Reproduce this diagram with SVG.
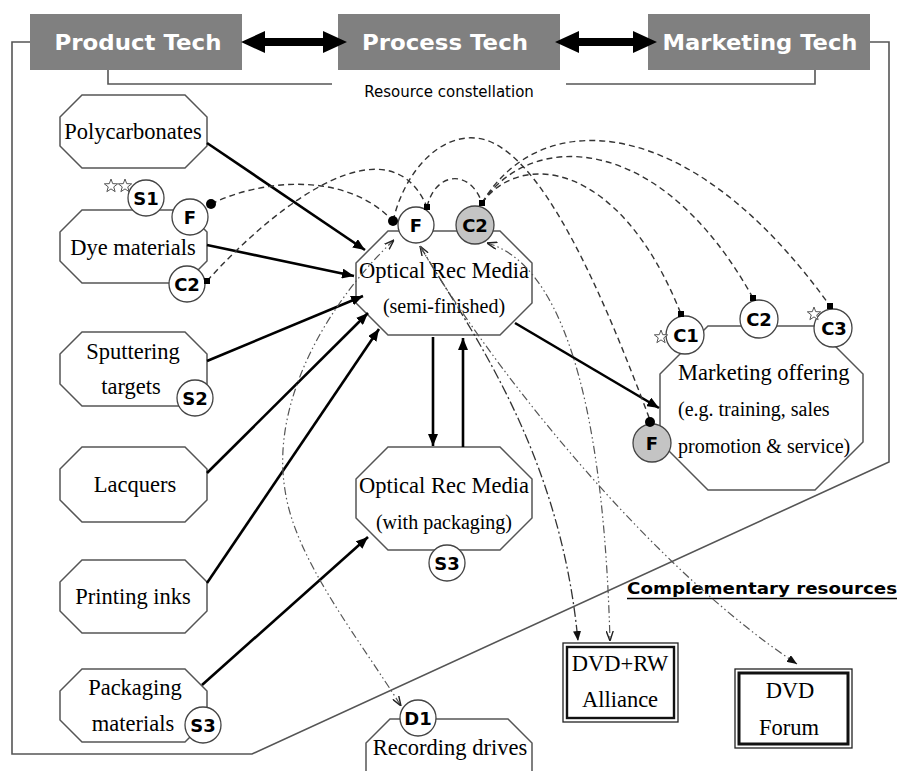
<svg xmlns="http://www.w3.org/2000/svg" width="898" height="771" viewBox="0 0 898 771">
<style>
.hbox{fill:#808080}
.htxt{font-family:"DejaVu Sans",sans-serif;font-weight:bold;font-size:21px;fill:#fff;text-anchor:middle}
.node{fill:#fff;stroke:#555;stroke-width:1.5}
.circ{fill:#fff;stroke:#444;stroke-width:1.3}
.gray{fill:#c4c4c4}
.lbl{font-family:"Liberation Serif",serif;font-size:22.5px;fill:#000;text-anchor:middle}
.sm{font-size:20px}
.st{text-anchor:start}
.clbl{font-family:"DejaVu Sans",sans-serif;font-weight:bold;font-size:18px;fill:#000;text-anchor:middle}
.solid{stroke:#000;stroke-width:2.6;fill:none;marker-end:url(#ah)}
.dash{stroke:#333;stroke-width:1.4;fill:none;stroke-dasharray:6 4}
.dd{stroke:#333;stroke-width:1.3;fill:none;stroke-dasharray:10 3 2 3}
.ddd{stroke:#555;stroke-width:1.2;fill:none;stroke-dasharray:8 3 1.5 3 1.5 3}
.frame{stroke:#555;stroke-width:1.6;fill:none}
.star{fill:#fff;stroke:#555;stroke-width:1}
</style>
<defs>
<marker id="ah" viewBox="0 0 12 10" refX="12" refY="5" markerWidth="12" markerHeight="10" markerUnits="userSpaceOnUse" orient="auto"><path d="M0,0 L12,5 L0,10 z" fill="#000"/></marker>
<marker id="as" viewBox="0 0 10 8" refX="10" refY="4" markerWidth="10" markerHeight="8" markerUnits="userSpaceOnUse" orient="auto-start-reverse"><path d="M0,0 L10,4 L0,8 z" fill="#111"/></marker>
<marker id="ao" viewBox="0 0 10 8" refX="10" refY="4" markerWidth="10" markerHeight="8" markerUnits="userSpaceOnUse" orient="auto-start-reverse"><path d="M0,0.5 L10,4 L0,7.5" fill="none" stroke="#222" stroke-width="1.4"/></marker>
<polygon id="starShape" points="0,-7 1.7,-2.35 6.66,-2.16 2.76,0.9 4.11,5.66 0,2.9 -4.11,5.66 -2.76,0.9 -6.66,-2.16 -1.7,-2.35"/>
</defs>

<!-- frame and header -->
<g id="frame">
<path class="frame" d="M30,42 H12 V754 H252 L889,462 V42 H870"/>
<path class="frame" d="M108,70 V84 H332 M566,84 H815 V70" stroke="#333"/>
<text x="449" y="97" font-family="DejaVu Sans,sans-serif" font-size="15" text-anchor="middle" fill="#000">Resource constellation</text>
</g>
<g id="product-tech"><rect class="hbox" x="30" y="14" width="212" height="56"/><text class="htxt" x="138" y="50" textLength="167" lengthAdjust="spacingAndGlyphs">Product Tech</text></g>
<g id="process-tech"><rect class="hbox" x="338" y="14" width="222" height="56"/><text class="htxt" x="445" y="50" textLength="166" lengthAdjust="spacingAndGlyphs">Process Tech</text></g>
<g id="marketing-tech"><rect class="hbox" x="648" y="14" width="222" height="56"/><text class="htxt" x="760" y="50" textLength="195" lengthAdjust="spacingAndGlyphs">Marketing Tech</text></g>
<g id="header-arrows">
<polygon fill="#000" points="241,42 265,31 265,38 323,38 323,31 347,42 323,53 323,46 265,46 265,53"/>
<polygon fill="#000" points="555,42 579,31 579,38 633,38 633,31 657,42 633,53 633,46 579,46 579,53"/>
</g>

<!-- nodes -->
<g id="polycarbonates"><polygon class="node" points="82,95 185,95 207,117 207,146 185,168 82,168 60,146 60,117"/><text class="lbl" x="133" y="139">Polycarbonates</text></g>
<g id="dye-materials"><polygon class="node" points="82,210 185,210 207,232 207,261 185,283 82,283 60,261 60,232"/><text class="lbl" x="133" y="255">Dye materials</text></g>
<g id="sputtering-targets"><polygon class="node" points="82,332 185,332 207,354 207,384 185,406 82,406 60,384 60,354"/><text class="lbl" x="133" y="359">Sputtering</text><text class="lbl" x="131" y="394">targets</text></g>
<g id="lacquers"><polygon class="node" points="82,447 185,447 207,469 207,500 185,522 82,522 60,500 60,469"/><text class="lbl" x="135" y="492">Lacquers</text></g>
<g id="printing-inks"><polygon class="node" points="82,560 185,560 207,582 207,611 185,633 82,633 60,611 60,582"/><text class="lbl" x="133" y="604">Printing inks</text></g>
<g id="packaging-materials"><polygon class="node" points="82,669 185,669 207,691 207,720 185,742 82,742 60,720 60,691"/><text class="lbl" x="135" y="695">Packaging</text><text class="lbl" x="133" y="731">materials</text></g>
<g id="orm-semi"><polygon class="node" points="388,231 500,231 532,263 532,303 500,335 388,335 356,303 356,263"/><text class="lbl" x="444" y="278">Optical Rec Media</text><text class="lbl sm" x="444" y="313">(semi-finished)</text></g>
<g id="orm-pack"><polygon class="node" points="388,447 500,447 532,479 532,518 500,550 388,550 356,518 356,479"/><text class="lbl" x="444" y="493">Optical Rec Media</text><text class="lbl sm" x="444" y="529">(with packaging)</text></g>
<g id="marketing-offering"><polygon class="node" points="708,326 815,326 863,374 863,442 815,490 708,490 660,442 660,374"/><text class="lbl st" x="678" y="380">Marketing offering</text><text class="lbl sm st" x="678" y="416">(e.g. training, sales</text><text class="lbl sm st" x="678" y="453">promotion &amp; service)</text></g>
<g id="recording-drives"><polygon class="node" points="390,719 508,719 532,743 532,800 366,800 366,743"/><text class="lbl" x="450" y="755">Recording drives</text></g>
<g id="dvd-rw-alliance"><rect x="563" y="643" width="115" height="79" fill="#fff" stroke="#222" stroke-width="1.3"/><rect x="567" y="647" width="107" height="71" fill="none" stroke="#111" stroke-width="2.4"/><text class="lbl" x="620" y="671" font-size="19.5">DVD+RW</text><text class="lbl" x="620" y="707" font-size="21">Alliance</text></g>
<g id="dvd-forum"><rect x="735" y="669" width="117" height="79" fill="#fff" stroke="#222" stroke-width="1.3"/><rect x="739" y="673" width="109" height="71" fill="none" stroke="#111" stroke-width="3"/><text class="lbl" x="790" y="698" font-size="19">DVD</text><text class="lbl" x="789" y="735" font-size="18">Forum</text></g>
<g id="complementary-label"><text x="627" y="594" font-family="DejaVu Sans,sans-serif" font-weight="bold" font-size="16" textLength="270" lengthAdjust="spacingAndGlyphs" fill="#000">Complementary resources</text><line x1="627" y1="598.5" x2="897" y2="598.5" stroke="#000" stroke-width="1.3"/></g>

<!-- connectors -->
<g id="connectors">
<path class="solid" d="M207,143 L365,250"/>
<path class="solid" d="M207,245 L354,276"/>
<path class="solid" d="M207,361 L363,296"/>
<path class="solid" d="M207,473 L368,313"/>
<path class="solid" d="M207,583 L379,329"/>
<path class="solid" d="M202,685 L368,537"/>
<path class="solid" d="M433,337 L433,446"/>
<path class="solid" d="M463,447 L463,338"/>
<path class="solid" d="M515,323 L659,408"/>

<path class="dash" d="M211,204 C260,180 345,170 393,221"/>
<path class="dash" d="M207,281 C280,200 390,120 427,207"/>
<path class="dash" d="M427,207 C435,172 470,168 482,203"/>
<path class="dash" d="M393,221 C405,170 440,135 475,138 C540,142 605,300 650,420"/>
<path class="dash" d="M482,203 C520,150 620,160 681,314"/>
<path class="dash" d="M482,203 C530,130 660,130 753,298"/>
<path class="dash" d="M482,203 C540,105 690,110 830,306"/>

<path class="dd" d="M420,246 C470,330 560,450 578,641" marker-start="url(#ao)" marker-end="url(#as)"/>
<path class="ddd" d="M420,246 C480,350 640,560 797,664" marker-end="url(#as)"/>
<path class="ddd" d="M487,243 C555,262 603,380 610,641" marker-start="url(#ao)" marker-end="url(#ao)"/>
<path class="ddd" d="M394,240 C330,300 270,400 285,490 C295,560 360,640 401,706" marker-start="url(#ao)" marker-end="url(#ao)"/>
</g>

<!-- attached circles -->
<g id="dye-circles">
<use href="#starShape" class="star" x="111" y="186"/><use href="#starShape" class="star" x="125" y="186"/>
<circle class="circ" cx="146" cy="198" r="18"/><text class="clbl" x="146" y="204.5">S1</text>
<circle class="circ" cx="190" cy="217" r="18"/><text class="clbl" x="190" y="223.5">F</text>
<circle class="circ" cx="187" cy="284" r="18"/><text class="clbl" x="187" y="290.5">C2</text>
</g>
<g id="sputter-circle"><circle class="circ" cx="195" cy="398" r="18"/><text class="clbl" x="195" y="404.5">S2</text></g>
<g id="packaging-circle"><circle class="circ" cx="203" cy="725" r="18"/><text class="clbl" x="203" y="731.5">S3</text></g>
<g id="semi-circles">
<circle class="circ" cx="416" cy="225" r="18"/><text class="clbl" x="416" y="231.5">F</text>
<circle class="circ gray" cx="475" cy="225" r="19"/><text class="clbl" x="475" y="231.5">C2</text>
</g>
<g id="pack-circle"><circle class="circ" cx="447" cy="563" r="18"/><text class="clbl" x="447" y="569.5">S3</text></g>
<g id="marketing-circles">
<circle class="circ" cx="685" cy="335" r="19"/><text class="clbl" x="686" y="341.5">C1</text>
<circle class="circ" cx="759" cy="319" r="19"/><text class="clbl" x="759" y="325.5">C2</text>
<circle class="circ" cx="833" cy="328" r="19"/><text class="clbl" x="834" y="334.5">C3</text>
<circle class="circ gray" cx="652" cy="443" r="19"/><text class="clbl" x="652" y="449.5">F</text>
<use href="#starShape" class="star" x="661" y="337"/><use href="#starShape" class="star" x="814" y="314"/>
</g>
<g id="drives-circle"><circle class="circ" cx="418" cy="718" r="18"/><text class="clbl" x="418" y="724.5">D1</text></g>

<!-- link end markers -->
<g id="link-ends" fill="#000">
<circle cx="211" cy="204" r="5"/><circle cx="393" cy="221" r="5"/><circle cx="650" cy="422" r="5"/>
<rect x="204" y="278" width="6" height="6"/><rect x="424" y="204" width="6" height="6"/><rect x="479" y="200" width="6" height="6"/>
<rect x="678" y="311" width="6" height="6"/><rect x="750" y="295" width="6" height="6"/><rect x="827" y="303" width="6" height="6"/>
</g>
</svg>
